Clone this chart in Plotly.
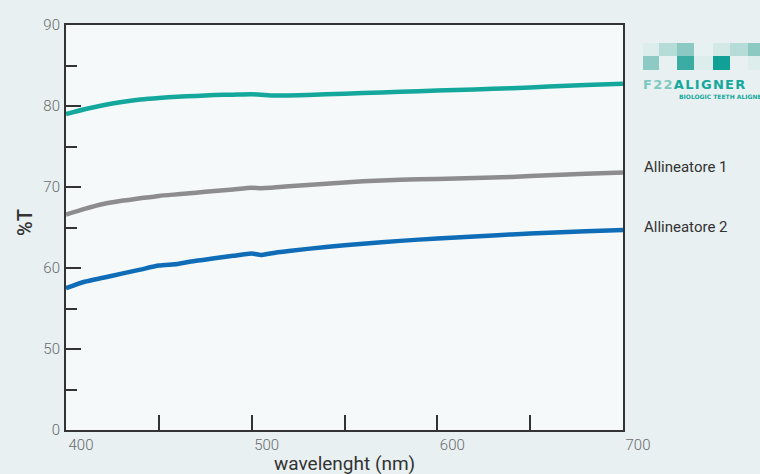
import plotly.graph_objects as go

# data
wavelength = [400, 410, 420, 430, 440, 450, 460, 470, 480, 490, 500, 505, 510, 520, 540, 560, 580, 600, 620, 640, 660, 680, 700]
f22 = [79.0, 79.6, 80.1, 80.5, 80.8, 81.0, 81.15, 81.25, 81.35, 81.4, 81.45, 81.4, 81.3, 81.3, 81.45, 81.6, 81.75, 81.9, 82.05, 82.2, 82.4, 82.6, 82.75]
all1 = [66.6, 67.3, 67.9, 68.3, 68.6, 68.9, 69.1, 69.3, 69.5, 69.7, 69.9, 69.85, 69.9, 70.1, 70.4, 70.7, 70.9, 71.0, 71.1, 71.25, 71.45, 71.65, 71.8]
all2 = [57.5, 58.3, 58.8, 59.3, 59.8, 60.3, 60.5, 60.9, 61.2, 61.5, 61.8, 61.6, 61.8, 62.1, 62.6, 63.0, 63.35, 63.65, 63.9, 64.15, 64.35, 64.55, 64.7]

series_names = ["F22 Aligner", "Allineatore 1", "Allineatore 2"]
series_values = [f22, all1, all2]
series_colors = ["#14a89d", "#8d8c8e", "#0f6db8"]

y_tickvals = [40, 50, 60, 70, 80, 90]
y_ticktext = ["0", "50", "60", "70", "80", "90"]
x_tickvals = [400, 500, 600, 700]
x_ticktext = ["400", "500", "600", "700"]

fig = go.Figure()
for name, vals, col in zip(series_names, series_values, series_colors):
    fig.add_trace(go.Scatter(x=wavelength, y=vals, mode="lines", name=name,
                             line=dict(color=col, width=4.5, shape="spline", smoothing=0.6),
                             hoverinfo="x+y+name"))

axis_col = "#333333"
tick_font = dict(family="Roboto, Open Sans, sans-serif", size=15, color="#6a6a6a", weight=300)

fig.update_xaxes(range=[400, 700], tickvals=x_tickvals, ticktext=x_ticktext,
                 ticks="inside", ticklen=15, tickwidth=1.5, tickcolor=axis_col,
                 minor=dict(dtick=50, tick0=400, ticks="inside", ticklen=15, tickwidth=1.5, tickcolor=axis_col),
                 showline=True, linecolor=axis_col, linewidth=2, mirror=True,
                 showgrid=False, zeroline=False, tickfont=tick_font,
                 ticklabelshift=15, ticklabelstandoff=0)
fig.update_yaxes(range=[40, 90], tickvals=y_tickvals, ticktext=y_ticktext,
                 ticks="inside", ticklen=15, tickwidth=1.5, tickcolor=axis_col,
                 minor=dict(dtick=5, tick0=40, ticks="inside", ticklen=11, tickwidth=1.5, tickcolor=axis_col),
                 showline=True, linecolor=axis_col, linewidth=2, mirror=True,
                 showgrid=False, zeroline=False, tickfont=tick_font, ticklabelstandoff=1)

W0, W1, H0, H1 = 66, 623, 25, 430
def px(x):
    return (x - W0) / (W1 - W0)
def py(y):
    return (H1 - y) / (H1 - H0)

ts = "&#8202;"
logo_text = "<span style='color:#7fc8c1'>" + ts.join("F22") + "</span>" + ts + ts.join("ALIGNER")

annots = [
    dict(text="wavelenght (nm)", x=0.5, y=py(463), xref="paper", yref="paper",
         showarrow=False, font=dict(family="Roboto, sans-serif", size=19, color="#333333"),
         xanchor="center", yanchor="middle"),
    dict(text="%T", x=px(25), y=py(223), xref="paper", yref="paper", textangle=-90,
         showarrow=False, font=dict(family="Roboto, sans-serif", size=20, color="#333333", weight=500),
         xanchor="center", yanchor="middle"),
    dict(text="Allineatore 1", x=px(642), y=py(167), xref="paper", yref="paper",
         showarrow=False, font=dict(family="Roboto, sans-serif", size=15, color="#333333"),
         xanchor="left", yanchor="middle"),
    dict(text="Allineatore 2", x=px(642), y=py(227), xref="paper", yref="paper",
         showarrow=False, font=dict(family="Roboto, sans-serif", size=15, color="#333333"),
         xanchor="left", yanchor="middle"),
    dict(text=logo_text, x=px(641), y=py(84), xref="paper", yref="paper",
         showarrow=False, font=dict(family="DejaVu Sans, sans-serif", size=13, color="#14a89d", weight="bold"),
         xanchor="left", yanchor="middle"),
    dict(text="BIOLOGIC TEETH ALIGNER", x=px(677), y=py(96.5), xref="paper", yref="paper",
         showarrow=False, font=dict(family="DejaVu Sans, sans-serif", size=6, color="#14a89d", weight="bold"),
         xanchor="left", yanchor="middle"),
]

# logo squares (decorative)
cols_px = [643, 659, 677, 694, 713, 730, 748, 766]
row1 = ["#dcedec", "#b6dcd8", "#8dc9c3", "#e8f1f1", "#d2e9e6", "#b6dcd8", "#8dc9c3"]
row2 = ["#8dcac4", None, "#3aaca3", "#dcedec", "#10a095", None, "#dcedec"]
shapes = []
for i in range(7):
    for (y0, y1, row) in [(43, 56, row1), (56, 70, row2)]:
        c = row[i]
        if c:
            shapes.append(dict(type="rect", xref="paper", yref="paper",
                               x0=px(cols_px[i]), x1=px(cols_px[i + 1]), y0=py(y1), y1=py(y0),
                               fillcolor=c, line=dict(width=0), layer="above"))

fig.update_layout(width=760, height=474, margin=dict(l=66, r=137, t=25, b=44),
                  paper_bgcolor="#e8f0f1", plot_bgcolor="#f5f9fa",
                  showlegend=False, annotations=annots, shapes=shapes)

fig.write_html("out.html", config={"displayModeBar": False},
               post_script="document.body.style.margin='0px';document.body.style.overflow='hidden';")
